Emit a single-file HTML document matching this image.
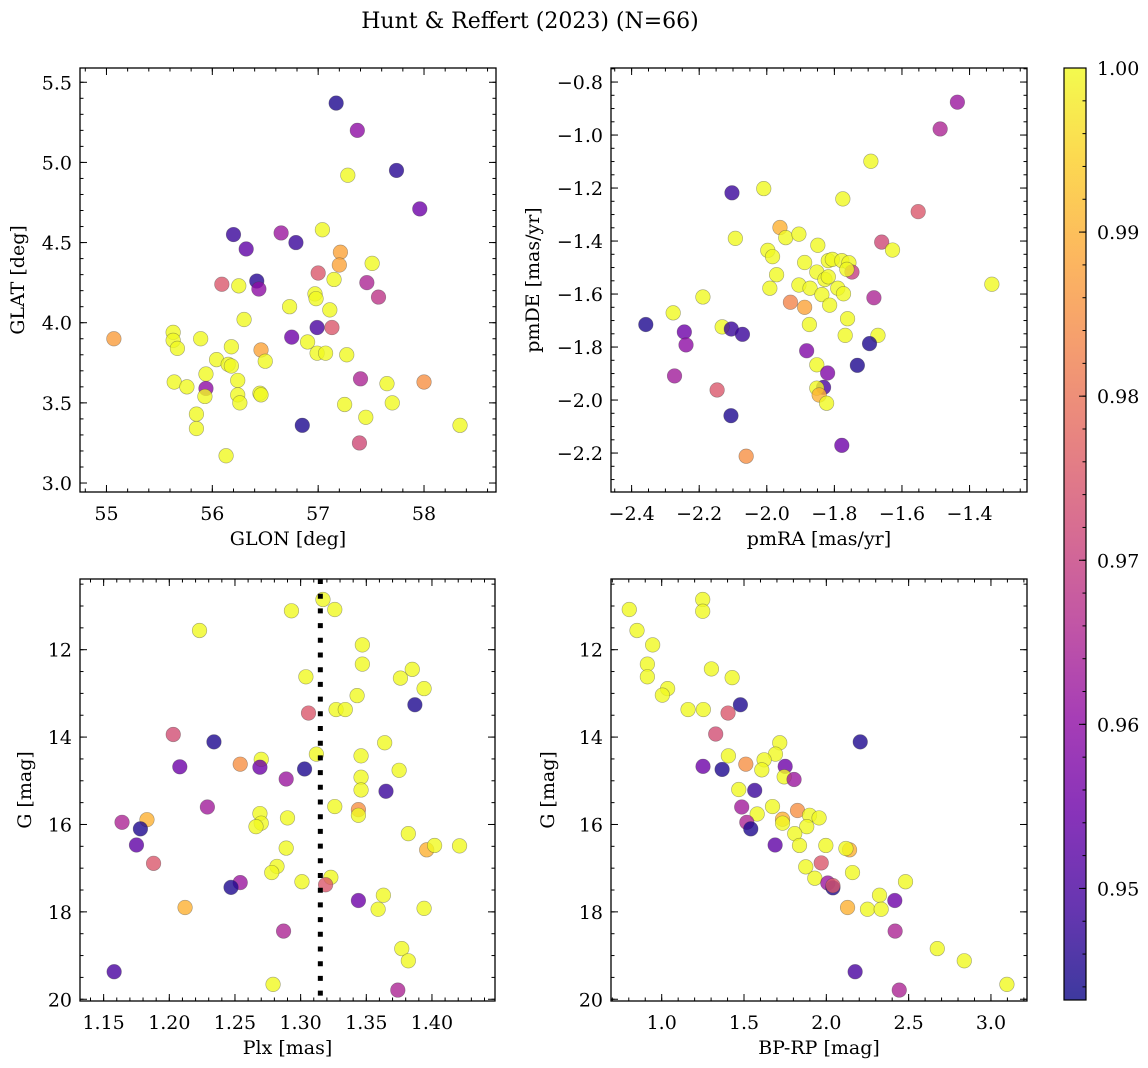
<!DOCTYPE html>
<html><head><meta charset="utf-8">
<style>
html,body{margin:0;padding:0;background:#fff;}
svg{display:block;font-family:"DejaVu Serif","Liberation Serif",serif;}
</style></head>
<body>
<svg id="fig" width="1148" height="1068" viewBox="0 0 1148 1068" xmlns="http://www.w3.org/2000/svg">
<defs>
<linearGradient id="plasma" x1="0" y1="1" x2="0" y2="0"></linearGradient>
</defs>
<text x="530" y="28" font-size="22" text-anchor="middle">Hunt &amp; Reffert (2023) (N=66)</text>
</svg>
<script>
// ---------- data: panel 1 (GLON / GLAT) ----------
const glon = [57.17,57.37,57.28,57.74,57.96,56.20,56.32,56.65,56.79,57.04,57.21,57.20,57.00,57.51,57.15,57.46,57.57,56.09,56.25,56.42,56.44,56.97,56.98,57.11,56.73,56.30,56.99,57.13,56.75,56.90,55.07,55.63,55.63,55.67,55.89,56.18,56.04,56.15,56.18,56.46,56.50,56.99,57.07,57.27,55.94,55.64,55.76,56.24,55.94,55.93,56.45,56.46,56.24,56.26,57.40,57.65,58.00,57.70,57.25,57.45,55.85,55.85,56.85,57.39,58.34,56.13];
const glat = [5.37,5.20,4.92,4.95,4.71,4.55,4.46,4.56,4.50,4.58,4.44,4.36,4.31,4.37,4.27,4.25,4.16,4.24,4.23,4.26,4.21,4.18,4.15,4.08,4.10,4.02,3.97,3.97,3.91,3.88,3.90,3.94,3.89,3.84,3.90,3.85,3.77,3.74,3.73,3.83,3.76,3.81,3.81,3.80,3.68,3.63,3.60,3.64,3.59,3.54,3.56,3.55,3.55,3.50,3.65,3.62,3.63,3.50,3.49,3.41,3.43,3.34,3.36,3.25,3.36,3.17];
const prob1 = [0.945,0.96,1,0.946,0.955,0.948,0.953,0.962,0.948,1,0.988,0.988,0.975,1,1,0.965,0.968,0.975,1,0.946,0.96,1,1,1,1,1,0.95,0.975,0.955,1,0.987,1,1,1,1,1,1,1,1,0.988,1,1,1,1,1,1,1,1,0.96,1,1,1,1,1,0.965,1,0.985,1,1,1,1,1,0.945,0.972,1,1];
// ---------- data: panel 2 (pmRA / pmDE) ----------
const pmra = [-1.436,-1.487,-1.692,-2.103,-2.009,-1.775,-1.552,-1.961,-1.944,-1.905,-2.093,-1.849,-1.660,-1.628,-1.997,-1.983,-1.888,-1.818,-1.806,-1.778,-1.757,-1.748,-1.763,-1.852,-1.971,-1.828,-1.818,-1.905,-1.872,-1.790,-1.991,-1.837,-1.773,-1.334,-2.189,-1.683,-1.930,-1.888,-1.814,-2.277,-1.761,-2.358,-1.874,-2.132,-2.105,-2.072,-2.244,-1.768,-1.671,-1.696,-2.239,-1.882,-1.732,-1.852,-1.820,-2.273,-1.832,-1.852,-1.845,-1.823,-2.147,-2.106,-2.061,-1.778];
const pmde = [-0.876,-0.977,-1.099,-1.218,-1.202,-1.241,-1.289,-1.349,-1.387,-1.374,-1.390,-1.416,-1.404,-1.434,-1.435,-1.459,-1.481,-1.474,-1.469,-1.474,-1.482,-1.517,-1.507,-1.517,-1.527,-1.545,-1.535,-1.566,-1.578,-1.578,-1.578,-1.602,-1.599,-1.563,-1.611,-1.614,-1.631,-1.650,-1.642,-1.671,-1.693,-1.715,-1.715,-1.724,-1.732,-1.752,-1.743,-1.756,-1.756,-1.787,-1.792,-1.814,-1.869,-1.867,-1.898,-1.909,-1.952,-1.955,-1.981,-2.012,-1.962,-2.059,-2.212,-2.171];
const prob2 = [0.962,0.965,1,0.948,1,1,0.975,0.99,1,1,1,1,0.972,1,1,1,1,1,1,1,1,0.97,1,1,1,1,1,1,1,1,1,1,1,1,1,0.965,0.983,0.988,1,1,1,0.945,1,1,0.948,0.948,0.955,1,1,0.945,0.96,0.958,0.945,1,0.958,0.963,0.95,1,0.99,1,0.975,0.945,0.985,0.955];
// ---------- data: panel 3 (Plx / G) ----------
const plx = [1.317,1.293,1.326,1.223,1.347,1.347,1.385,1.376,1.304,1.394,1.343,1.387,1.327,1.334,1.306,1.203,1.234,1.364,1.312,1.346,1.254,1.270,1.269,1.208,1.303,1.375,1.289,1.346,1.346,1.365,1.229,1.326,1.344,1.344,1.269,1.290,1.270,1.266,1.164,1.183,1.178,1.382,1.175,1.396,1.402,1.421,1.289,1.188,1.282,1.278,1.301,1.323,1.319,1.254,1.247,1.363,1.344,1.359,1.394,1.212,1.287,1.377,1.382,1.158,1.279,1.374];
const g3 = [10.85,11.11,11.08,11.56,11.89,12.33,12.45,12.65,12.62,12.89,13.05,13.26,13.37,13.37,13.45,13.94,14.11,14.13,14.39,14.43,14.62,14.51,14.69,14.68,14.73,14.76,14.96,14.92,15.21,15.24,15.60,15.59,15.66,15.79,15.75,15.85,15.97,16.05,15.95,15.89,16.10,16.21,16.47,16.58,16.48,16.49,16.54,16.89,16.96,17.10,17.31,17.21,17.38,17.33,17.44,17.62,17.74,17.94,17.92,17.90,18.44,18.84,19.12,19.37,19.66,19.79];
const prob3 = [1,1,1,1,1,1,1,1,1,1,1,0.945,1,1,0.975,0.973,0.945,1,1,1,0.985,1,0.955,0.955,0.945,1,0.962,1,1,0.948,0.963,1,0.985,1,1,1,1,1,0.965,0.99,0.945,1,0.953,0.99,1,1,1,0.975,1,1,1,1,0.975,0.962,0.945,1,0.955,1,1,0.99,0.965,1,1,0.95,1,0.965];
const refPlx = [1.315];
// ---------- data: panel 4 (BP-RP / G) ----------
const bprp = [0.803,1.249,1.249,0.850,0.945,0.913,0.913,1.302,1.428,1.036,1.004,1.160,1.253,1.478,1.403,1.328,2.206,1.717,1.691,1.405,1.622,1.511,1.251,1.367,1.608,1.750,1.744,1.804,1.565,1.468,1.486,1.673,1.825,1.580,1.898,1.956,1.734,1.734,1.881,1.517,1.541,1.808,1.837,1.997,1.689,2.141,2.119,1.969,1.875,1.930,2.159,2.481,2.009,2.040,2.040,2.323,2.416,2.129,2.250,2.333,2.418,2.674,2.838,2.175,3.097,2.443];
const g4 = [11.08,10.85,11.12,11.56,11.89,12.33,12.62,12.44,12.64,12.89,13.04,13.37,13.37,13.26,13.45,13.93,14.11,14.13,14.39,14.43,14.52,14.62,14.67,14.74,14.75,14.67,14.91,14.97,15.22,15.20,15.60,15.59,15.68,15.76,15.79,15.85,15.88,15.97,16.05,15.95,16.10,16.21,16.48,16.48,16.47,16.58,16.55,16.88,16.97,17.23,17.10,17.31,17.34,17.45,17.40,17.62,17.74,17.90,17.94,17.94,18.44,18.84,19.12,19.37,19.66,19.79];
const prob4 = [1,1,1,1,1,1,1,1,1,1,1,1,1,0.945,0.975,0.973,0.945,1,1,1,1,0.985,0.955,0.945,1,0.955,1,0.962,0.948,1,0.963,1,0.985,1,1,1,0.99,1,1,0.965,0.945,1,1,1,0.953,0.99,1,0.975,1,1,1,1,0.962,0.945,0.975,1,0.955,0.99,1,1,0.965,1,1,0.95,1,0.965];
// colorbar range / ticks
const cbTicks = [0.95,0.96,0.97,0.98,0.99,1.00];
const cbMin = 0.9432, cbMax = 1.0;

const NS = "http://www.w3.org/2000/svg";
const svg = document.getElementById('fig');
const FS = 19;
function mk(tag, attrs, parent){
  const e = document.createElementNS(NS, tag);
  for (const k in attrs) e.setAttribute(k, attrs[k]);
  (parent||svg).appendChild(e);
  return e;
}
const PL = [[13,8,135],[65,4,157],[106,0,168],[143,13,164],[177,42,144],[204,71,120],[225,100,98],[242,132,75],[252,166,54],[252,206,37],[240,249,33]];
function plasma(t){
  t = Math.max(0, Math.min(1, t));
  const f = t*10, i = Math.min(9, Math.floor(f)), r = f - i;
  const a = PL[i], b = PL[i+1];
  return 'rgb(' + [0,1,2].map(k => Math.round(a[k] + (b[k]-a[k])*r)).join(',') + ')';
}
const grad = document.getElementById('plasma');
PL.forEach((c,i)=>{ mk('stop',{offset:(i*10)+'%','stop-color':'rgb('+c.join(',')+')'},grad); });

function fmt(v, d){ const s = v.toFixed(d); return s.replace('-', '\u2212'); }
function range(a, b, step){ const out=[]; const n=Math.round((b-a)/step); for(let i=0;i<=n;i++) out.push(a+i*step); return out; }

function panel(o){
  const g = mk('g', {});
  
  
  const sx = v => o.x0 + (v - o.xlim[0]) / (o.xlim[1]-o.xlim[0]) * o.w;
  const sy = v => o.y0 + (v - o.ylim[0]) / (o.ylim[1]-o.ylim[0]) * o.h;
  const n = Math.min(o.xs.length, o.ys.length, o.ps.length);
  for (let i=0;i<n;i++){
    const c = mk('circle', {cx:sx(o.xs[i]), cy:sy(o.ys[i]), r:7.3, fill:plasma((o.ps[i]-cbMin)/(cbMax-cbMin)), 'fill-opacity':0.8, stroke:'rgba(60,60,60,0.45)', 'stroke-width':0.6}, g);
    
    
  }
  if (o.after) o.after(g, sx, sy);
  const tk = mk('g', {stroke:'#000','stroke-width':1}, g);
  const inX = v => v >= Math.min(...o.xlim)-1e-9 && v <= Math.max(...o.xlim)+1e-9;
  const inY = v => v >= Math.min(...o.ylim)-1e-9 && v <= Math.max(...o.ylim)+1e-9;
  const yb = o.y0 + o.h, xr = o.x0 + o.w;
  o.xminor.filter(inX).forEach(v=>{ const x=sx(v);
    mk('line',{x1:x,x2:x,y1:yb,y2:yb-3.5},tk); mk('line',{x1:x,x2:x,y1:o.y0,y2:o.y0+3.5},tk); });
  o.yminor.filter(inY).forEach(v=>{ const y=sy(v);
    mk('line',{x1:o.x0,x2:o.x0+3.5,y1:y,y2:y},tk); mk('line',{x1:xr,x2:xr-3.5,y1:y,y2:y},tk); });
  o.xmajor.filter(inX).forEach(v=>{ const x=sx(v);
    mk('line',{x1:x,x2:x,y1:yb,y2:yb-7},tk); mk('line',{x1:x,x2:x,y1:o.y0,y2:o.y0+7},tk);
    const t = mk('text',{x:x,y:yb+28,'font-size':FS,'text-anchor':'middle'},g); t.textContent = fmt(v,o.xd);
      });
  o.ymajor.filter(inY).forEach(v=>{ const y=sy(v);
    mk('line',{x1:o.x0,x2:o.x0+7,y1:y,y2:y},tk); mk('line',{x1:xr,x2:xr-7,y1:y,y2:y},tk);
    const t = mk('text',{x:o.x0-8,y:y+7,'font-size':FS,'text-anchor':'end'},g); t.textContent = fmt(v,o.yd);
      });
  const fr = mk('rect',{x:o.x0,y:o.y0,width:o.w,height:o.h,fill:'none',stroke:'#000','stroke-width':1.3},g);
   
  const xl = mk('text',{x:o.x0+o.w/2,y:yb+53,'font-size':FS,'text-anchor':'middle'},g); xl.textContent=o.xlabel;
   
  const yl = mk('text',{x:0,y:0,'font-size':FS,'text-anchor':'middle',transform:'translate('+(o.ylx)+','+(o.y0+o.h/2)+') rotate(-90)'},g); yl.textContent=o.ylabel;
   
}

panel({name:'glon-glat-panel', x0:80,y0:68,w:416,h:424, xlim:[54.75,58.68], ylim:[5.589,2.944],
  xs:glon, ys:glat, ps:prob1, xmajor:range(55,58,1), xminor:range(54.8,58.6,0.2), ymajor:range(3,5.5,0.5), yminor:range(3,5.5,0.1),
  xd:0, yd:1, xlabel:'GLON [deg]', ylabel:'GLAT [deg]', ylx:24});
panel({name:'proper-motion-panel', x0:611,y0:68,w:416,h:424, xlim:[-2.461,-1.230], ylim:[-0.747,-2.347],
  xs:pmra, ys:pmde, ps:prob2, xmajor:range(-2.4,-1.4,0.2), xminor:range(-2.45,-1.25,0.05), ymajor:range(-2.2,-0.8,0.2), yminor:range(-2.3,-0.75,0.05),
  xd:1, yd:1, xlabel:'pmRA [mas/yr]', ylabel:'pmDE [mas/yr]', ylx:539});
panel({name:'parallax-magnitude-panel', x0:80,y0:579,w:415,h:422, xlim:[1.132,1.448], ylim:[10.382,20.04],
  xs:plx, ys:g3, ps:prob3, xmajor:range(1.15,1.40,0.05), xminor:range(1.14,1.44,0.01), ymajor:range(12,20,2), yminor:range(10.5,20,0.5),
  xd:2, yd:0, xlabel:'Plx [mas]', ylabel:'G [mag]', ylx:31,
  after:(g,sx,sy)=>{ refPlx.forEach(v=>{ const l = mk('line',{x1:sx(v),x2:sx(v),y1:579,y2:1001,stroke:'#000','stroke-width':5,'stroke-dasharray':'5,9.7'},g);
      }); }});
panel({name:'cmd-panel', x0:611,y0:579,w:416,h:422, xlim:[0.692,3.219], ylim:[10.382,20.04],
  xs:bprp, ys:g4, ps:prob4, xmajor:range(1.0,3.0,0.5), xminor:range(0.7,3.2,0.1), ymajor:range(12,20,2), yminor:range(10.5,20,0.5),
  xd:1, yd:0, xlabel:'BP-RP [mag]', ylabel:'G [mag]', ylx:554});

// colorbar
const cb = mk('g',{});


const cbX=1064, cbY=68, cbW=22, cbH=932;
mk('rect',{x:cbX,y:cbY,width:cbW,height:cbH,fill:'url(#plasma)','fill-opacity':0.8},cb);
const cby = v => cbY + (cbMax - v)/(cbMax-cbMin)*cbH;
for (let v=0.944; v<=1.0001; v+=0.002){ const y=cby(v); mk('line',{x1:cbX+cbW,x2:cbX+cbW-3.5,y1:y,y2:y,stroke:'#000','stroke-width':1},cb); }
cbTicks.forEach(v=>{ const y=cby(v);
  mk('line',{x1:cbX+cbW,x2:cbX+cbW-7,y1:y,y2:y,stroke:'#000','stroke-width':1},cb);
  const t = mk('text',{x:cbX+cbW+11,y:y+7,'font-size':FS},cb); t.textContent=v.toFixed(2);
    });
mk('rect',{x:cbX,y:cbY,width:cbW,height:cbH,fill:'none',stroke:'#000','stroke-width':1.2},cb);
</script>
</body></html>
